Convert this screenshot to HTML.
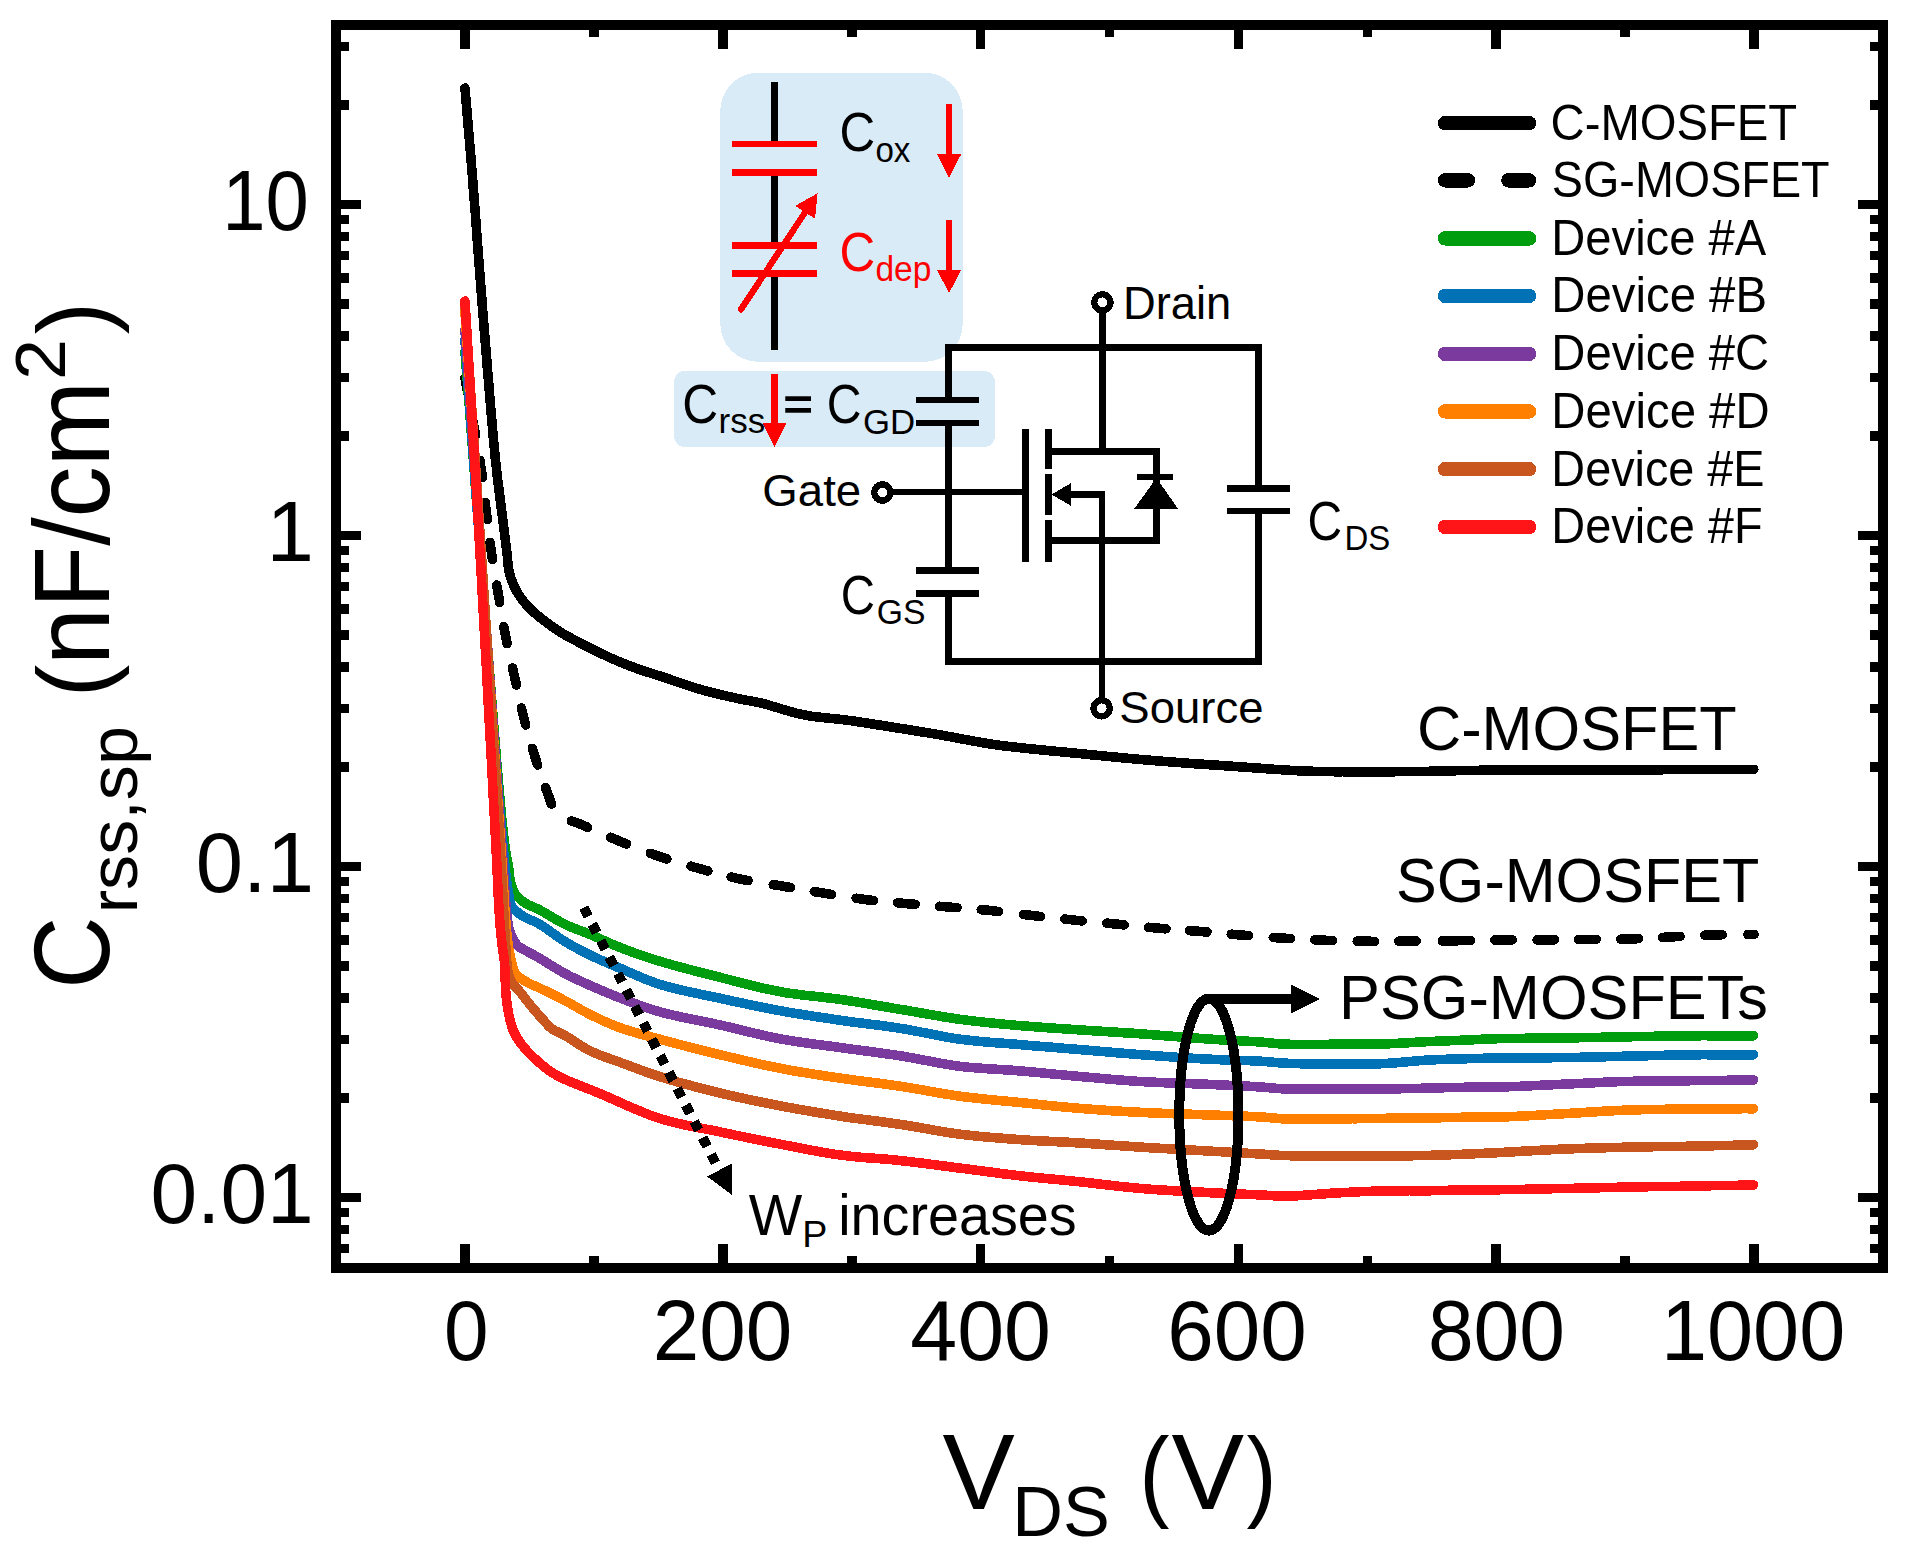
<!DOCTYPE html>
<html lang="en"><head><meta charset="utf-8"><title>Crss,sp vs VDS</title>
<style>html,body{margin:0;padding:0;background:#fff}svg{display:block}</style></head>
<body>
<svg shape-rendering="crispEdges" width="1908" height="1547" viewBox="0 0 1908 1547" font-family="'Liberation Sans', Arial, Helvetica, sans-serif">
<rect width="1908" height="1547" fill="#fff"/>
<path d="M465.0,88.0 L465.6,95.7 L466.3,103.3 L466.9,110.9 L467.6,118.5 L468.2,126.1 L468.9,133.8 L469.5,141.4 L470.2,149.0 L470.8,156.7 L471.4,164.4 L472.1,172.2 L472.7,180.0 L473.3,188.2 L474.0,196.5 L474.6,204.8 L475.3,213.1 L475.9,221.5 L476.5,229.9 L477.1,238.3 L477.8,246.7 L478.4,255.1 L479.0,263.4 L479.7,271.7 L480.3,280.0 L480.9,288.0 L481.6,296.0 L482.2,304.0 L482.8,312.0 L483.5,320.0 L484.1,328.0 L484.8,335.9 L485.4,343.8 L486.1,351.7 L486.7,359.5 L487.3,367.3 L488.0,375.0 L488.6,382.3 L489.2,389.6 L489.8,396.9 L490.4,404.2 L491.0,411.5 L491.7,418.7 L492.3,425.9 L492.9,432.9 L493.5,439.9 L494.2,446.7 L494.8,453.5 L495.5,460.0 L496.1,465.4 L496.7,470.8 L497.3,476.2 L497.9,481.5 L498.6,486.7 L499.2,491.9 L499.9,496.9 L500.5,501.8 L501.1,506.6 L501.7,511.3 L502.3,515.7 L502.8,520.0 L503.2,523.0 L503.5,525.8 L503.9,528.6 L504.2,531.2 L504.5,533.9 L504.8,536.4 L505.2,538.9 L505.5,541.4 L505.8,543.8 L506.1,546.2 L506.4,548.6 L506.7,551.0 L506.9,553.1 L507.2,555.1 L507.4,557.1 L507.5,559.1 L507.7,561.1 L507.9,563.1 L508.1,565.0 L508.4,566.9 L508.6,568.8 L509.0,570.7 L509.3,572.5 L509.8,574.3 L510.3,576.0 L510.8,577.6 L511.3,579.2 L511.9,580.8 L512.5,582.3 L513.1,583.9 L513.8,585.4 L514.5,586.9 L515.2,588.4 L516.0,589.9 L516.8,591.4 L517.6,592.8 L518.5,594.2 L519.4,595.7 L520.3,597.0 L521.3,598.4 L522.3,599.7 L523.3,601.1 L524.4,602.4 L525.5,603.7 L526.7,605.0 L527.9,606.3 L529.2,607.7 L530.5,609.0 L532.3,610.7 L534.2,612.5 L536.2,614.2 L538.2,616.0 L540.4,617.8 L542.6,619.5 L544.9,621.3 L547.2,623.0 L549.5,624.7 L551.8,626.3 L554.1,627.9 L556.4,629.5 L558.7,631.0 L561.0,632.4 L563.3,633.8 L565.6,635.2 L568.0,636.5 L570.4,637.8 L572.8,639.1 L575.2,640.4 L577.6,641.7 L580.0,642.9 L582.4,644.2 L584.8,645.4 L587.2,646.6 L589.6,647.8 L592.0,649.1 L594.4,650.3 L596.8,651.4 L599.2,652.6 L601.6,653.8 L604.0,654.9 L606.4,656.0 L608.8,657.1 L611.2,658.2 L613.5,659.2 L615.6,660.1 L617.8,661.0 L619.9,661.9 L622.1,662.8 L624.2,663.7 L626.3,664.5 L628.4,665.4 L630.5,666.2 L632.6,666.9 L634.6,667.7 L636.7,668.5 L638.7,669.2 L640.5,669.8 L642.3,670.4 L644.0,671.0 L645.7,671.5 L647.3,672.1 L649.0,672.6 L650.7,673.1 L652.5,673.6 L654.2,674.2 L656.1,674.8 L658.0,675.4 L660.0,676.0 L662.9,677.0 L665.9,678.0 L669.1,679.1 L672.4,680.2 L675.8,681.4 L679.2,682.6 L682.7,683.8 L686.2,685.0 L689.7,686.1 L693.2,687.2 L696.6,688.3 L700.0,689.3 L703.4,690.2 L706.8,691.2 L710.3,692.1 L713.8,693.0 L717.3,693.8 L720.8,694.7 L724.3,695.5 L727.7,696.3 L730.9,697.0 L734.1,697.7 L737.1,698.4 L740.0,699.0 L741.9,699.4 L743.6,699.7 L745.3,700.0 L746.9,700.3 L748.4,700.6 L749.9,700.8 L751.5,701.1 L753.0,701.4 L754.6,701.7 L756.3,702.0 L758.1,702.4 L760.0,702.8 L763.1,703.6 L766.4,704.4 L769.8,705.4 L773.4,706.5 L777.1,707.6 L780.9,708.8 L784.8,709.9 L788.7,711.1 L792.6,712.2 L796.4,713.2 L800.3,714.1 L804.0,714.9 L807.6,715.6 L811.3,716.2 L815.0,716.7 L818.6,717.1 L822.3,717.5 L826.0,717.9 L829.6,718.3 L833.3,718.6 L837.0,719.0 L840.7,719.4 L844.3,719.8 L848.0,720.3 L851.7,720.8 L855.4,721.3 L859.0,721.9 L862.7,722.5 L866.4,723.0 L870.1,723.6 L873.7,724.2 L877.4,724.8 L881.1,725.3 L884.8,725.9 L888.4,726.5 L892.1,727.1 L895.8,727.7 L899.4,728.3 L903.1,728.8 L906.8,729.4 L910.4,730.0 L914.1,730.6 L917.8,731.2 L921.4,731.8 L925.1,732.4 L928.8,733.0 L932.4,733.6 L936.1,734.2 L939.8,734.8 L943.6,735.5 L947.4,736.2 L951.3,736.9 L955.2,737.7 L959.0,738.4 L962.8,739.1 L966.5,739.8 L970.1,740.4 L973.6,741.1 L976.9,741.7 L980.1,742.2 L982.2,742.6 L984.1,742.9 L985.9,743.2 L987.6,743.5 L989.3,743.8 L990.9,744.0 L992.6,744.3 L994.3,744.6 L996.1,744.8 L998.1,745.1 L1000.2,745.4 L1002.5,745.7 L1007.3,746.3 L1012.5,746.9 L1018.3,747.5 L1024.5,748.2 L1030.9,748.9 L1037.6,749.5 L1044.5,750.2 L1051.5,750.9 L1058.4,751.5 L1065.3,752.2 L1072.1,752.9 L1078.6,753.5 L1085.1,754.1 L1091.6,754.8 L1098.2,755.4 L1104.7,756.1 L1111.3,756.7 L1117.8,757.3 L1124.4,758.0 L1130.9,758.6 L1137.5,759.2 L1144.1,759.8 L1150.6,760.3 L1157.2,760.9 L1163.8,761.4 L1170.4,761.9 L1177.0,762.4 L1183.7,762.9 L1190.3,763.4 L1197.0,763.9 L1203.6,764.3 L1210.2,764.8 L1216.7,765.2 L1223.2,765.6 L1229.5,766.1 L1235.8,766.5 L1241.4,766.9 L1247.0,767.3 L1252.5,767.7 L1257.9,768.1 L1263.4,768.5 L1268.8,768.9 L1274.1,769.3 L1279.4,769.6 L1284.6,770.0 L1289.8,770.3 L1294.9,770.6 L1300.0,770.8 L1304.5,771.0 L1308.8,771.1 L1313.1,771.3 L1317.3,771.4 L1321.4,771.5 L1325.6,771.5 L1329.7,771.6 L1333.9,771.7 L1338.1,771.7 L1342.4,771.7 L1346.8,771.8 L1351.3,771.8 L1356.6,771.8 L1362.0,771.9 L1367.4,771.9 L1373.0,771.9 L1378.6,771.8 L1384.3,771.8 L1390.0,771.8 L1395.7,771.7 L1401.4,771.7 L1407.1,771.6 L1412.8,771.6 L1418.4,771.5 L1423.9,771.4 L1429.3,771.3 L1434.6,771.2 L1439.9,771.1 L1445.2,771.0 L1450.5,770.9 L1455.9,770.7 L1461.4,770.6 L1467.1,770.5 L1473.0,770.4 L1479.1,770.3 L1485.5,770.2 L1495.1,770.1 L1505.2,770.0 L1515.8,770.0 L1526.8,770.0 L1538.1,770.0 L1549.7,770.0 L1561.4,770.0 L1573.2,770.0 L1585.0,770.0 L1596.7,769.9 L1608.3,769.9 L1619.6,769.9 L1630.8,769.9 L1642.0,769.8 L1653.1,769.8 L1664.3,769.7 L1675.5,769.7 L1686.7,769.6 L1697.9,769.6 L1709.1,769.5 L1720.2,769.5 L1731.4,769.4 L1742.6,769.4 L1753.8,769.3" fill="none" stroke="#000" stroke-width="9.6" stroke-linecap="round" stroke-linejoin="round"/>
<path d="M465.0,378.0 L465.7,381.8 L466.4,385.7 L467.1,389.6 L467.7,392.9 M472.4,418.1 L473.0,421.7 L473.8,425.7 L474.5,429.6 L475.2,433.5 L475.5,435.2 M479.9,460.4 L480.2,462.6 L480.7,465.9 L481.2,469.0 L481.5,471.1 L481.8,473.1 L482.1,475.0 L482.3,476.9 L482.4,477.6 M485.2,502.4 L485.2,502.6 L485.4,504.2 L485.6,505.9 L485.8,507.6 L486.0,509.3 L486.2,511.0 L486.4,512.7 L486.6,514.4 L486.8,516.0 L487.0,517.7 L487.2,519.4 L487.2,519.6 M490.0,542.4 L490.0,542.6 L490.3,544.3 L490.5,545.9 L490.7,547.6 L491.0,549.3 L491.2,551.0 L491.5,552.8 L491.7,554.5 L492.0,556.3 L492.3,558.1 L492.5,559.6 M496.7,585.1 L497.0,586.6 L497.3,588.4 L497.6,590.2 L497.9,591.9 L498.2,593.7 L498.5,595.4 L498.8,597.2 L499.1,598.9 L499.4,600.6 L499.6,602.3 M503.8,626.6 L504.1,628.2 L504.4,629.9 L504.7,631.7 L505.1,633.4 L505.4,635.1 L505.7,636.8 L506.1,638.6 L506.4,640.3 L506.8,642.0 L507.1,643.6 M512.6,668.0 L513.0,669.6 L513.3,671.4 L513.7,673.1 L514.1,674.8 L514.5,676.5 L514.9,678.2 L515.2,679.9 L515.6,681.5 L516.0,683.2 L516.3,684.9 L516.4,685.0 M521.4,708.0 L521.5,708.2 L521.9,709.9 L522.3,711.5 L522.7,713.2 L523.1,714.8 L523.5,716.5 L523.9,718.2 L524.4,719.9 L524.8,721.5 L525.2,723.2 L525.7,724.9 L525.7,724.9 M532.3,748.3 L532.3,748.3 L532.8,750.0 L533.3,751.6 L533.9,753.3 L534.4,754.9 L534.9,756.6 L535.4,758.3 L536.0,760.0 L536.5,761.7 L537.1,763.5 L537.6,764.9 M545.6,787.7 L546.1,789.2 L546.7,790.7 L547.2,792.1 L547.7,793.4 L548.1,794.7 L548.6,795.9 L548.8,796.5 L549.1,797.2 L549.3,797.8 L549.5,798.4 L549.7,798.9 L549.9,799.5 L550.0,800.0 L550.2,800.6 L550.4,801.1 L550.6,801.6 L550.7,802.1 L550.9,802.6 L551.1,803.0 L551.2,803.5 L551.4,804.0 L551.5,804.1 M571.4,821.1 L571.9,821.2 L572.6,821.5 L573.3,821.7 L574.1,821.9 L574.8,822.2 L575.6,822.4 L576.4,822.7 L577.2,823.0 L578.0,823.3 L578.8,823.6 L579.6,823.9 L580.9,824.4 L582.3,825.0 L583.7,825.6 L585.1,826.2 L586.6,826.9 L587.6,827.3 M610.4,837.3 L611.7,837.9 L613.4,838.6 L615.1,839.3 L616.8,840.0 L618.4,840.7 L620.1,841.4 L621.7,842.1 L623.4,842.7 L625.0,843.4 L626.5,844.0 M650.3,853.3 L651.8,853.8 L653.4,854.4 L655.1,855.0 L656.8,855.6 L658.5,856.2 L660.2,856.8 L661.9,857.3 L663.6,857.9 L665.3,858.5 L666.8,858.9 M691.0,866.2 L692.6,866.7 L694.3,867.2 L696.0,867.6 L697.7,868.1 L699.4,868.6 L701.1,869.1 L702.8,869.5 L704.4,870.0 L706.1,870.5 L707.8,870.9 L707.8,870.9 M731.2,877.0 L731.2,877.0 L732.9,877.4 L734.6,877.8 L736.3,878.2 L738.0,878.5 L739.7,878.9 L741.4,879.3 L743.2,879.6 L744.9,879.9 L746.6,880.3 L748.2,880.6 M773.2,884.6 L774.8,884.9 L776.6,885.1 L778.3,885.4 L780.1,885.7 L781.8,886.0 L783.5,886.3 L785.2,886.6 L787.0,886.9 L788.7,887.2 L790.4,887.5 M814.3,891.6 L816.0,891.9 L817.7,892.2 L819.5,892.4 L821.2,892.7 L822.9,893.0 L824.6,893.3 L826.4,893.6 L828.1,893.9 L829.9,894.1 L831.5,894.4 M856.2,898.3 L857.8,898.6 L859.6,898.8 L861.3,899.0 L863.1,899.3 L864.8,899.5 L866.5,899.7 L868.3,899.9 L870.0,900.1 L871.7,900.3 L873.4,900.5 M897.7,902.8 L899.5,903.0 L901.2,903.1 L902.9,903.3 L904.7,903.4 L906.4,903.6 L908.1,903.8 L909.9,903.9 L911.6,904.1 L913.4,904.2 L915.1,904.3 M939.6,906.3 L941.3,906.4 L943.1,906.6 L944.8,906.7 L946.6,906.9 L948.3,907.0 L950.0,907.1 L951.8,907.3 L953.5,907.4 L955.3,907.6 L957.0,907.7 M981.3,909.7 L983.0,909.8 L984.8,910.0 L986.5,910.2 L988.3,910.3 L990.0,910.5 L991.7,910.7 L993.5,910.9 L995.2,911.1 L997.0,911.3 L998.6,911.4 M1023.4,914.5 L1025.0,914.7 L1026.8,914.9 L1028.5,915.1 L1030.3,915.3 L1032.0,915.5 L1033.7,915.7 L1035.5,915.9 L1037.2,916.1 L1038.9,916.3 L1040.6,916.5 M1064.8,919.1 L1066.6,919.3 L1068.3,919.5 L1070.0,919.6 L1071.8,919.8 L1073.5,920.0 L1075.2,920.2 L1077.0,920.4 L1078.7,920.5 L1080.5,920.7 L1082.2,920.9 M1106.8,923.2 L1108.5,923.3 L1110.3,923.5 L1112.0,923.7 L1113.8,923.8 L1115.5,924.0 L1117.2,924.2 L1119.0,924.3 L1120.7,924.5 L1122.5,924.7 L1124.2,924.9 M1148.6,927.3 L1150.4,927.5 L1152.1,927.6 L1153.8,927.8 L1155.6,927.9 L1157.3,928.1 L1159.0,928.2 L1160.7,928.4 L1162.4,928.5 L1164.2,928.7 L1165.9,928.8 L1166.0,928.8 M1189.6,930.6 L1189.7,930.6 L1191.5,930.8 L1193.2,930.9 L1194.9,931.0 L1196.6,931.2 L1198.3,931.3 L1200.0,931.4 L1201.8,931.6 L1203.5,931.7 L1205.2,931.9 L1206.9,932.0 L1207.0,932.0 M1231.2,934.2 L1232.9,934.3 L1234.7,934.5 L1236.4,934.6 L1238.2,934.8 L1239.9,934.9 L1241.6,935.0 L1243.4,935.2 L1245.2,935.3 L1246.9,935.5 L1248.6,935.6 M1273.3,937.5 L1275.0,937.6 L1276.7,937.8 L1278.5,937.9 L1280.2,938.0 L1282.0,938.1 L1283.7,938.2 L1285.5,938.3 L1287.2,938.4 L1288.9,938.5 L1290.7,938.6 L1290.7,938.6 M1314.9,939.9 L1314.9,939.9 L1316.6,939.9 L1318.4,940.0 L1320.1,940.1 L1321.9,940.1 L1323.6,940.2 L1325.4,940.3 L1327.1,940.3 L1328.9,940.4 L1330.6,940.4 L1332.3,940.5 M1357.2,941.1 L1358.9,941.1 L1360.6,941.1 L1362.4,941.2 L1364.1,941.2 L1365.9,941.2 L1367.6,941.2 L1369.4,941.2 L1371.1,941.3 L1372.8,941.3 L1374.5,941.3 L1374.6,941.3 M1398.8,941.2 L1400.4,941.2 L1402.1,941.2 L1403.9,941.2 L1405.7,941.2 L1407.5,941.2 L1409.5,941.2 L1411.4,941.2 L1413.4,941.2 L1415.4,941.2 L1416.2,941.1 M1442.3,940.9 L1444.1,940.9 L1446.1,940.8 L1448.2,940.8 L1450.2,940.8 L1452.2,940.8 L1454.3,940.7 L1456.3,940.7 L1458.3,940.7 L1460.3,940.6 L1462.3,940.6 L1464.3,940.6 L1466.3,940.5 L1468.3,940.5 L1470.3,940.5 L1470.3,940.5 M1495.0,940.0 L1496.0,940.0 L1497.9,940.0 L1499.9,939.9 L1501.8,939.9 L1503.7,939.9 L1505.5,939.9 L1507.3,939.9 L1509.1,939.9 L1510.9,939.9 L1512.4,939.9 M1537.1,939.9 L1538.8,939.9 L1540.6,939.9 L1542.3,939.9 L1544.1,939.9 L1545.8,939.9 L1547.5,939.9 L1549.3,939.9 L1551.0,939.9 L1552.7,939.8 L1554.5,939.8 L1554.5,939.8 M1578.7,939.5 L1578.7,939.5 L1580.5,939.5 L1582.2,939.5 L1583.9,939.4 L1585.7,939.4 L1587.4,939.4 L1589.1,939.4 L1590.9,939.4 L1592.7,939.3 L1594.4,939.3 L1596.1,939.3 M1620.8,939.1 L1622.5,939.1 L1624.2,939.0 L1626.0,939.0 L1627.7,938.9 L1629.5,938.9 L1631.2,938.8 L1633.0,938.8 L1634.7,938.7 L1636.5,938.7 L1638.2,938.6 M1662.6,937.3 L1664.3,937.3 L1666.1,937.2 L1667.8,937.1 L1669.6,937.0 L1671.3,936.9 L1673.1,936.8 L1674.8,936.7 L1676.6,936.6 L1678.3,936.5 L1680.0,936.5 M1704.7,935.2 L1706.4,935.1 L1708.2,935.1 L1709.9,935.0 L1711.7,935.0 L1713.4,934.9 L1715.1,934.9 L1716.8,934.8 L1718.5,934.8 L1720.2,934.7 L1721.9,934.7 L1722.1,934.7 M1748.0,934.5 L1748.9,934.5 L1750.6,934.5 L1752.3,934.5 L1754.0,934.5" fill="none" stroke="#000" stroke-width="9.6" stroke-linecap="round" stroke-linejoin="round"/>
<path d="M465.0,352.0 L468.4,394.5 L471.9,440.1 L475.5,487.8 L479.2,536.5 L482.9,585.1 L486.5,632.8 L490.0,678.4 L493.4,720.9 L496.5,759.4 L499.4,792.7 L501.9,819.9 L504.1,840.0 L504.6,843.8 L505.1,847.3 L505.5,850.4 L506.0,853.2 L506.4,855.8 L506.9,858.1 L507.3,860.3 L507.7,862.4 L508.0,864.3 L508.4,866.2 L508.7,868.1 L509.0,870.0 L509.2,871.2 L509.3,872.3 L509.4,873.4 L509.5,874.4 L509.5,875.4 L509.6,876.3 L509.7,877.3 L509.8,878.2 L509.9,879.1 L510.1,880.1 L510.3,881.0 L510.5,882.0 L510.8,883.1 L511.1,884.2 L511.4,885.3 L511.8,886.4 L512.2,887.5 L512.6,888.6 L513.1,889.7 L513.5,890.8 L514.0,891.8 L514.6,892.8 L515.2,893.8 L515.8,894.7 L516.5,895.6 L517.2,896.4 L517.9,897.2 L518.7,897.9 L519.5,898.7 L520.3,899.4 L521.2,900.1 L522.0,900.8 L522.9,901.4 L523.9,902.1 L524.8,902.7 L525.7,903.3 L526.7,903.9 L527.7,904.5 L528.7,905.0 L529.7,905.5 L530.8,905.9 L531.8,906.4 L532.9,906.8 L534.0,907.3 L535.2,907.8 L536.3,908.3 L537.6,908.9 L538.8,909.5 L540.7,910.5 L542.6,911.6 L544.7,912.8 L546.8,914.0 L549.0,915.3 L551.2,916.7 L553.4,918.0 L555.7,919.3 L558.0,920.6 L560.2,921.9 L562.5,923.1 L564.7,924.2 L566.8,925.2 L568.9,926.1 L571.1,927.0 L573.2,927.9 L575.3,928.7 L577.5,929.5 L579.6,930.3 L581.8,931.2 L583.9,932.0 L586.1,932.8 L588.3,933.7 L590.5,934.6 L592.9,935.6 L595.3,936.7 L597.6,937.7 L600.0,938.8 L602.4,939.9 L604.8,941.0 L607.3,942.1 L609.7,943.2 L612.2,944.3 L614.8,945.4 L617.4,946.4 L620.0,947.5 L623.1,948.7 L626.2,949.9 L629.3,951.0 L632.5,952.2 L635.8,953.4 L639.0,954.5 L642.4,955.6 L645.8,956.8 L649.2,957.9 L652.8,959.0 L656.3,960.2 L660.0,961.3 L664.6,962.7 L669.3,964.0 L674.1,965.4 L679.1,966.7 L684.1,968.1 L689.2,969.4 L694.3,970.8 L699.5,972.1 L704.7,973.4 L709.8,974.7 L715.0,976.0 L720.0,977.3 L725.0,978.6 L730.0,979.9 L735.0,981.2 L740.0,982.5 L745.0,983.7 L750.0,985.0 L754.9,986.3 L759.9,987.5 L765.0,988.6 L770.0,989.7 L775.0,990.7 L780.0,991.7 L785.0,992.6 L790.0,993.3 L795.0,994.0 L800.0,994.7 L805.0,995.3 L810.0,995.8 L815.0,996.4 L820.0,996.9 L825.0,997.5 L830.0,998.1 L835.0,998.7 L840.0,999.4 L845.0,1000.1 L850.0,1000.9 L855.0,1001.7 L860.0,1002.5 L865.0,1003.4 L870.0,1004.2 L875.0,1005.1 L880.0,1005.9 L885.0,1006.8 L890.0,1007.6 L895.0,1008.5 L900.0,1009.3 L905.0,1010.1 L910.0,1011.0 L915.0,1011.9 L920.0,1012.8 L925.0,1013.6 L930.0,1014.5 L935.0,1015.4 L940.0,1016.2 L945.0,1017.1 L950.0,1017.8 L955.0,1018.6 L960.0,1019.3 L965.0,1020.0 L970.0,1020.6 L975.0,1021.2 L980.0,1021.7 L985.0,1022.3 L990.0,1022.8 L995.0,1023.3 L1000.0,1023.8 L1005.0,1024.3 L1010.0,1024.7 L1015.0,1025.2 L1020.0,1025.6 L1025.0,1026.0 L1030.0,1026.4 L1035.0,1026.8 L1040.0,1027.2 L1045.0,1027.6 L1050.0,1027.9 L1055.0,1028.2 L1060.0,1028.6 L1065.0,1028.9 L1070.0,1029.2 L1075.0,1029.6 L1080.0,1029.9 L1085.0,1030.2 L1090.0,1030.6 L1094.9,1030.9 L1099.9,1031.2 L1104.9,1031.5 L1109.9,1031.8 L1114.8,1032.1 L1119.8,1032.4 L1124.8,1032.8 L1129.9,1033.1 L1134.9,1033.4 L1140.0,1033.8 L1145.3,1034.2 L1150.7,1034.6 L1156.2,1035.0 L1161.7,1035.5 L1167.2,1035.9 L1172.7,1036.3 L1178.2,1036.8 L1183.6,1037.2 L1189.1,1037.6 L1194.4,1038.0 L1199.8,1038.4 L1205.0,1038.8 L1209.8,1039.1 L1214.7,1039.4 L1219.5,1039.7 L1224.4,1040.0 L1229.3,1040.2 L1234.1,1040.5 L1238.8,1040.7 L1243.3,1041.0 L1247.8,1041.2 L1252.1,1041.5 L1256.1,1041.7 L1260.0,1042.0 L1262.5,1042.2 L1264.8,1042.4 L1267.0,1042.6 L1269.1,1042.8 L1271.1,1043.0 L1273.0,1043.2 L1275.0,1043.4 L1277.0,1043.6 L1279.1,1043.8 L1281.3,1043.9 L1283.6,1044.1 L1286.0,1044.2 L1289.7,1044.3 L1293.6,1044.4 L1297.7,1044.5 L1302.0,1044.5 L1306.4,1044.5 L1310.9,1044.4 L1315.5,1044.4 L1320.0,1044.4 L1324.5,1044.3 L1329.0,1044.3 L1333.4,1044.2 L1337.6,1044.2 L1341.5,1044.2 L1345.3,1044.2 L1349.1,1044.2 L1352.9,1044.2 L1356.6,1044.2 L1360.4,1044.2 L1364.1,1044.2 L1367.8,1044.2 L1371.6,1044.2 L1375.3,1044.2 L1379.0,1044.1 L1382.8,1044.0 L1386.6,1043.9 L1390.4,1043.7 L1394.2,1043.5 L1398.0,1043.3 L1401.8,1043.1 L1405.6,1042.9 L1409.4,1042.7 L1413.2,1042.4 L1416.9,1042.2 L1420.7,1042.0 L1424.3,1041.8 L1428.0,1041.6 L1431.4,1041.4 L1434.7,1041.3 L1438.0,1041.2 L1441.3,1041.0 L1444.6,1040.9 L1447.9,1040.8 L1451.1,1040.6 L1454.3,1040.5 L1457.5,1040.4 L1460.7,1040.3 L1463.9,1040.1 L1467.0,1040.0 L1469.8,1039.9 L1472.5,1039.8 L1475.2,1039.6 L1477.8,1039.5 L1480.4,1039.4 L1483.0,1039.2 L1485.6,1039.1 L1488.3,1039.0 L1491.1,1038.9 L1493.9,1038.8 L1496.9,1038.7 L1500.0,1038.6 L1504.6,1038.5 L1509.4,1038.4 L1514.5,1038.4 L1519.7,1038.3 L1525.1,1038.3 L1530.6,1038.2 L1536.1,1038.2 L1541.7,1038.2 L1547.3,1038.2 L1552.8,1038.1 L1558.3,1038.1 L1563.7,1038.0 L1569.0,1037.9 L1574.3,1037.8 L1579.6,1037.7 L1584.9,1037.6 L1590.2,1037.5 L1595.6,1037.4 L1600.9,1037.3 L1606.2,1037.2 L1611.5,1037.1 L1616.8,1037.0 L1622.1,1036.9 L1627.4,1036.8 L1632.7,1036.7 L1638.0,1036.6 L1643.3,1036.5 L1648.6,1036.4 L1653.9,1036.3 L1659.2,1036.2 L1664.5,1036.1 L1669.8,1036.1 L1675.1,1036.0 L1680.4,1035.9 L1685.7,1035.8 L1691.0,1035.8 L1696.2,1035.8 L1701.4,1035.7 L1706.7,1035.7 L1711.9,1035.7 L1717.1,1035.7 L1722.3,1035.7 L1727.5,1035.8 L1732.7,1035.8 L1737.9,1035.8 L1743.1,1035.8 L1748.3,1035.8 L1753.5,1035.8" fill="none" stroke="#009E0F" stroke-width="9.6" stroke-linecap="round" stroke-linejoin="round"/>
<path d="M465.0,340.0 L466.9,367.0 L468.9,394.4 L470.9,422.1 L472.9,450.1 L474.9,478.0 L476.9,505.7 L478.9,533.2 L480.8,560.1 L482.7,586.4 L484.6,612.0 L486.4,636.5 L488.2,660.0 L489.5,677.2 L490.8,694.3 L492.1,711.2 L493.4,727.9 L494.6,744.3 L495.8,760.2 L497.0,775.5 L498.2,790.2 L499.3,804.1 L500.4,817.1 L501.5,829.1 L502.5,840.0 L503.0,845.3 L503.5,850.5 L504.0,855.3 L504.4,860.0 L504.8,864.5 L505.3,868.7 L505.7,872.7 L506.1,876.6 L506.6,880.2 L507.0,883.6 L507.5,886.9 L508.0,890.0 L508.3,891.7 L508.5,893.3 L508.7,894.8 L508.9,896.2 L509.1,897.6 L509.3,898.9 L509.5,900.2 L509.8,901.4 L510.1,902.6 L510.5,903.8 L511.0,904.9 L511.6,906.0 L512.3,907.0 L513.0,908.0 L513.8,909.0 L514.7,909.9 L515.7,910.8 L516.7,911.6 L517.7,912.4 L518.7,913.2 L519.8,914.0 L520.9,914.7 L522.0,915.5 L523.1,916.2 L524.3,916.9 L525.5,917.6 L526.7,918.2 L528.0,918.8 L529.2,919.3 L530.5,919.9 L531.9,920.4 L533.2,921.0 L534.6,921.6 L536.0,922.2 L537.4,922.9 L538.8,923.7 L540.8,924.9 L542.8,926.2 L544.9,927.6 L547.0,929.1 L549.2,930.6 L551.4,932.2 L553.6,933.8 L555.8,935.4 L558.0,937.0 L560.3,938.5 L562.5,940.0 L564.7,941.4 L566.8,942.7 L568.9,943.9 L571.0,945.1 L573.2,946.3 L575.3,947.5 L577.4,948.6 L579.5,949.8 L581.7,950.9 L583.9,952.0 L586.1,953.1 L588.3,954.2 L590.5,955.3 L592.9,956.4 L595.2,957.5 L597.6,958.6 L600.0,959.7 L602.4,960.7 L604.8,961.8 L607.2,962.8 L609.7,963.9 L612.2,964.9 L614.8,966.0 L617.4,967.1 L620.0,968.2 L623.1,969.5 L626.2,970.9 L629.3,972.3 L632.5,973.7 L635.8,975.1 L639.0,976.5 L642.4,977.9 L645.7,979.3 L649.2,980.6 L652.7,981.9 L656.3,983.2 L660.0,984.4 L664.5,985.8 L669.2,987.1 L674.1,988.3 L679.0,989.5 L684.0,990.7 L689.2,991.8 L694.3,992.9 L699.5,994.0 L704.7,995.1 L709.8,996.1 L715.0,997.2 L720.0,998.3 L725.0,999.4 L730.0,1000.5 L735.0,1001.6 L740.0,1002.6 L745.0,1003.7 L750.0,1004.8 L755.0,1005.8 L760.0,1006.8 L765.0,1007.8 L770.0,1008.8 L775.0,1009.8 L780.0,1010.7 L785.0,1011.6 L790.0,1012.5 L795.0,1013.3 L800.0,1014.1 L805.0,1014.9 L810.0,1015.7 L815.0,1016.5 L820.0,1017.2 L825.0,1018.0 L830.0,1018.7 L835.0,1019.5 L840.0,1020.2 L845.0,1020.9 L850.0,1021.6 L855.0,1022.3 L860.0,1022.9 L865.0,1023.5 L870.0,1024.2 L875.0,1024.8 L880.0,1025.4 L885.0,1026.1 L890.0,1026.8 L895.0,1027.5 L900.0,1028.3 L905.0,1029.1 L910.0,1030.0 L915.0,1031.0 L920.0,1031.9 L925.0,1032.9 L930.0,1033.9 L935.0,1034.9 L940.0,1035.9 L945.0,1036.8 L950.0,1037.7 L955.0,1038.5 L960.0,1039.2 L965.0,1039.8 L970.0,1040.4 L975.0,1040.9 L980.0,1041.4 L985.0,1041.9 L990.0,1042.3 L995.0,1042.7 L1000.0,1043.0 L1005.0,1043.4 L1010.0,1043.8 L1015.0,1044.2 L1020.0,1044.6 L1025.0,1045.0 L1030.0,1045.5 L1035.0,1045.9 L1040.0,1046.3 L1045.0,1046.7 L1050.0,1047.1 L1055.0,1047.5 L1060.0,1047.9 L1065.0,1048.4 L1070.0,1048.8 L1075.0,1049.2 L1080.0,1049.6 L1085.0,1050.0 L1090.0,1050.4 L1094.9,1050.9 L1099.9,1051.3 L1104.9,1051.7 L1109.8,1052.1 L1114.8,1052.6 L1119.8,1053.0 L1124.8,1053.4 L1129.9,1053.8 L1134.9,1054.2 L1140.0,1054.6 L1145.3,1055.0 L1150.7,1055.4 L1156.2,1055.8 L1161.7,1056.2 L1167.2,1056.6 L1172.7,1057.0 L1178.2,1057.4 L1183.6,1057.7 L1189.1,1058.1 L1194.4,1058.4 L1199.8,1058.7 L1205.0,1059.0 L1209.8,1059.2 L1214.7,1059.5 L1219.5,1059.7 L1224.4,1059.8 L1229.3,1060.0 L1234.1,1060.2 L1238.8,1060.3 L1243.3,1060.5 L1247.8,1060.6 L1252.1,1060.8 L1256.1,1061.0 L1260.0,1061.2 L1262.5,1061.4 L1264.8,1061.5 L1267.0,1061.7 L1269.1,1061.9 L1271.1,1062.1 L1273.0,1062.2 L1275.0,1062.4 L1277.0,1062.6 L1279.1,1062.8 L1281.3,1062.9 L1283.6,1063.1 L1286.0,1063.2 L1289.7,1063.4 L1293.6,1063.5 L1297.7,1063.6 L1302.0,1063.8 L1306.4,1063.9 L1310.9,1063.9 L1315.5,1064.0 L1320.0,1064.1 L1324.5,1064.1 L1329.0,1064.2 L1333.4,1064.2 L1337.6,1064.2 L1341.5,1064.2 L1345.3,1064.2 L1349.1,1064.2 L1352.9,1064.2 L1356.6,1064.2 L1360.4,1064.2 L1364.1,1064.1 L1367.8,1064.1 L1371.6,1064.0 L1375.3,1063.9 L1379.0,1063.8 L1382.8,1063.6 L1386.6,1063.4 L1390.4,1063.2 L1394.2,1062.9 L1398.0,1062.6 L1401.8,1062.2 L1405.6,1061.9 L1409.4,1061.6 L1413.2,1061.2 L1416.9,1060.9 L1420.7,1060.6 L1424.3,1060.3 L1428.0,1060.1 L1431.4,1059.9 L1434.7,1059.8 L1438.0,1059.6 L1441.3,1059.5 L1444.6,1059.4 L1447.9,1059.2 L1451.1,1059.1 L1454.3,1059.1 L1457.5,1059.0 L1460.7,1058.9 L1463.9,1058.8 L1467.0,1058.7 L1469.8,1058.6 L1472.5,1058.5 L1475.2,1058.5 L1477.8,1058.4 L1480.4,1058.4 L1483.0,1058.3 L1485.6,1058.2 L1488.3,1058.2 L1491.1,1058.1 L1493.9,1058.1 L1496.9,1058.0 L1500.0,1058.0 L1504.6,1057.9 L1509.4,1057.9 L1514.5,1057.9 L1519.7,1057.9 L1525.1,1057.8 L1530.6,1057.8 L1536.1,1057.8 L1541.7,1057.8 L1547.3,1057.8 L1552.8,1057.7 L1558.3,1057.7 L1563.7,1057.6 L1569.0,1057.5 L1574.3,1057.4 L1579.6,1057.3 L1584.9,1057.2 L1590.2,1057.1 L1595.6,1057.0 L1600.9,1056.8 L1606.2,1056.7 L1611.5,1056.6 L1616.8,1056.4 L1622.1,1056.3 L1627.4,1056.2 L1632.7,1056.1 L1638.0,1056.0 L1643.3,1055.8 L1648.6,1055.7 L1653.9,1055.5 L1659.2,1055.4 L1664.5,1055.3 L1669.8,1055.2 L1675.1,1055.1 L1680.4,1055.0 L1685.7,1054.9 L1691.0,1054.8 L1696.2,1054.8 L1701.4,1054.7 L1706.7,1054.7 L1711.9,1054.7 L1717.1,1054.7 L1722.3,1054.7 L1727.5,1054.7 L1732.7,1054.7 L1737.9,1054.8 L1743.1,1054.8 L1748.3,1054.8 L1753.5,1054.8" fill="none" stroke="#0072B5" stroke-width="9.6" stroke-linecap="round" stroke-linejoin="round"/>
<path d="M465.0,330.0 L468.1,373.9 L471.4,420.1 L474.8,467.8 L478.3,516.3 L481.8,564.8 L485.2,612.6 L488.5,658.8 L491.6,702.7 L494.5,743.5 L497.2,780.5 L499.5,812.9 L501.5,840.0 L502.2,849.3 L502.8,858.2 L503.3,866.5 L503.8,874.4 L504.3,881.8 L504.8,888.8 L505.2,895.2 L505.6,901.1 L506.1,906.6 L506.5,911.6 L507.0,916.0 L507.5,920.0 L507.7,921.4 L507.9,922.7 L508.1,923.8 L508.3,924.9 L508.4,925.9 L508.6,926.8 L508.8,927.7 L509.0,928.6 L509.2,929.4 L509.5,930.3 L509.7,931.1 L510.0,932.0 L510.2,932.7 L510.5,933.5 L510.8,934.2 L511.0,934.9 L511.3,935.6 L511.6,936.3 L511.9,936.9 L512.2,937.6 L512.6,938.2 L512.9,938.9 L513.2,939.5 L513.6,940.1 L513.9,940.6 L514.3,941.2 L514.6,941.7 L514.9,942.2 L515.3,942.7 L515.6,943.2 L516.0,943.7 L516.4,944.2 L516.8,944.7 L517.2,945.1 L517.6,945.6 L518.1,946.0 L518.6,946.5 L519.2,946.9 L519.8,947.3 L520.4,947.7 L521.0,948.1 L521.7,948.4 L522.4,948.8 L523.0,949.1 L523.7,949.5 L524.4,949.9 L525.2,950.3 L525.9,950.7 L526.8,951.2 L527.8,951.8 L528.8,952.3 L529.8,952.9 L530.8,953.4 L531.9,954.0 L533.0,954.6 L534.1,955.2 L535.2,955.8 L536.4,956.4 L537.6,957.1 L538.8,957.8 L540.7,958.9 L542.6,960.1 L544.6,961.3 L546.8,962.6 L548.9,964.0 L551.2,965.4 L553.4,966.8 L555.7,968.2 L558.0,969.6 L560.2,970.9 L562.5,972.2 L564.7,973.4 L566.8,974.5 L568.9,975.6 L571.1,976.7 L573.2,977.7 L575.3,978.7 L577.4,979.7 L579.6,980.7 L581.7,981.7 L583.9,982.7 L586.1,983.6 L588.3,984.6 L590.5,985.6 L592.9,986.6 L595.2,987.7 L597.6,988.7 L600.0,989.8 L602.4,990.8 L604.8,991.8 L607.2,992.8 L609.7,993.8 L612.2,994.8 L614.8,995.9 L617.4,996.9 L620.0,997.9 L623.1,999.1 L626.2,1000.3 L629.3,1001.5 L632.5,1002.7 L635.8,1003.9 L639.0,1005.1 L642.4,1006.3 L645.8,1007.4 L649.2,1008.6 L652.7,1009.7 L656.3,1010.8 L660.0,1011.9 L664.5,1013.1 L669.3,1014.3 L674.1,1015.4 L679.0,1016.5 L684.1,1017.6 L689.2,1018.7 L694.3,1019.7 L699.5,1020.7 L704.7,1021.8 L709.9,1022.8 L715.0,1023.9 L720.0,1025.0 L725.0,1026.1 L730.0,1027.3 L735.0,1028.5 L740.0,1029.7 L745.0,1031.0 L750.0,1032.2 L755.0,1033.4 L760.0,1034.5 L765.0,1035.7 L770.0,1036.8 L775.0,1037.8 L780.0,1038.8 L785.0,1039.7 L790.0,1040.5 L795.0,1041.3 L800.0,1042.1 L805.0,1042.8 L810.0,1043.5 L815.0,1044.2 L820.0,1044.8 L825.0,1045.5 L830.0,1046.1 L835.0,1046.8 L840.0,1047.5 L845.0,1048.2 L850.0,1048.9 L855.0,1049.6 L860.0,1050.2 L865.0,1050.9 L870.0,1051.5 L875.0,1052.2 L880.0,1052.9 L885.0,1053.6 L890.0,1054.3 L895.0,1055.0 L900.0,1055.8 L905.0,1056.6 L910.0,1057.5 L915.0,1058.4 L920.0,1059.4 L925.0,1060.3 L930.0,1061.3 L935.0,1062.2 L940.0,1063.2 L945.0,1064.0 L950.0,1064.9 L955.0,1065.6 L960.0,1066.3 L965.0,1066.9 L970.0,1067.4 L975.0,1067.8 L980.0,1068.2 L985.0,1068.6 L990.0,1068.9 L995.0,1069.2 L1000.0,1069.5 L1005.0,1069.8 L1010.0,1070.1 L1015.0,1070.5 L1020.0,1070.9 L1025.0,1071.3 L1030.0,1071.8 L1035.0,1072.2 L1040.0,1072.7 L1045.0,1073.2 L1050.0,1073.7 L1055.0,1074.2 L1060.0,1074.6 L1065.0,1075.1 L1070.0,1075.6 L1075.0,1076.1 L1080.0,1076.5 L1085.0,1076.9 L1090.0,1077.4 L1094.9,1077.8 L1099.9,1078.3 L1104.9,1078.7 L1109.8,1079.2 L1114.8,1079.6 L1119.8,1080.0 L1124.8,1080.4 L1129.9,1080.8 L1134.9,1081.2 L1140.0,1081.5 L1145.3,1081.8 L1150.7,1082.1 L1156.2,1082.3 L1161.7,1082.6 L1167.2,1082.8 L1172.7,1083.0 L1178.2,1083.2 L1183.6,1083.4 L1189.1,1083.6 L1194.5,1083.8 L1199.8,1084.0 L1205.0,1084.2 L1209.8,1084.4 L1214.7,1084.6 L1219.6,1084.9 L1224.4,1085.1 L1229.3,1085.3 L1234.1,1085.5 L1238.8,1085.7 L1243.3,1086.0 L1247.8,1086.2 L1252.1,1086.4 L1256.1,1086.7 L1260.0,1086.9 L1262.5,1087.1 L1264.8,1087.3 L1267.0,1087.5 L1269.1,1087.7 L1271.1,1087.8 L1273.0,1088.0 L1275.0,1088.2 L1277.0,1088.4 L1279.1,1088.6 L1281.3,1088.7 L1283.6,1088.9 L1286.0,1089.0 L1289.7,1089.1 L1293.6,1089.2 L1297.7,1089.2 L1302.0,1089.3 L1306.4,1089.2 L1310.9,1089.2 L1315.5,1089.2 L1320.0,1089.1 L1324.5,1089.1 L1329.0,1089.0 L1333.4,1089.0 L1337.6,1089.0 L1341.5,1089.0 L1345.3,1089.0 L1349.1,1089.0 L1352.9,1089.0 L1356.6,1089.0 L1360.4,1089.1 L1364.1,1089.1 L1367.8,1089.1 L1371.6,1089.1 L1375.3,1089.1 L1379.0,1089.0 L1382.8,1089.0 L1386.6,1089.0 L1390.4,1088.9 L1394.2,1088.8 L1398.0,1088.8 L1401.8,1088.7 L1405.6,1088.6 L1409.4,1088.5 L1413.2,1088.4 L1416.9,1088.4 L1420.7,1088.3 L1424.4,1088.2 L1428.0,1088.1 L1431.4,1088.0 L1434.7,1087.9 L1438.0,1087.9 L1441.3,1087.8 L1444.6,1087.7 L1447.9,1087.6 L1451.1,1087.5 L1454.3,1087.4 L1457.5,1087.4 L1460.7,1087.3 L1463.9,1087.3 L1467.0,1087.2 L1469.8,1087.2 L1472.5,1087.1 L1475.2,1087.1 L1477.8,1087.1 L1480.4,1087.2 L1483.0,1087.2 L1485.6,1087.2 L1488.3,1087.2 L1491.1,1087.1 L1493.9,1087.1 L1496.9,1087.1 L1500.0,1087.0 L1504.6,1086.9 L1509.4,1086.7 L1514.5,1086.5 L1519.7,1086.3 L1525.1,1086.0 L1530.6,1085.8 L1536.1,1085.5 L1541.7,1085.2 L1547.3,1085.0 L1552.8,1084.7 L1558.3,1084.4 L1563.7,1084.2 L1569.0,1084.0 L1574.3,1083.7 L1579.6,1083.5 L1584.9,1083.2 L1590.2,1082.9 L1595.6,1082.7 L1600.9,1082.4 L1606.2,1082.2 L1611.5,1082.0 L1616.8,1081.7 L1622.1,1081.6 L1627.4,1081.4 L1632.7,1081.3 L1638.0,1081.2 L1643.3,1081.1 L1648.6,1081.0 L1653.9,1081.0 L1659.2,1080.9 L1664.5,1080.9 L1669.8,1080.9 L1675.1,1080.8 L1680.4,1080.8 L1685.7,1080.8 L1691.0,1080.7 L1696.2,1080.6 L1701.4,1080.6 L1706.7,1080.5 L1711.9,1080.5 L1717.1,1080.4 L1722.3,1080.4 L1727.5,1080.3 L1732.7,1080.2 L1737.9,1080.2 L1743.1,1080.1 L1748.3,1080.1 L1753.5,1080.0" fill="none" stroke="#7B3A9E" stroke-width="9.6" stroke-linecap="round" stroke-linejoin="round"/>
<path d="M465.0,312.0 L468.0,357.4 L471.2,404.9 L474.5,454.0 L477.9,503.8 L481.2,553.6 L484.5,602.7 L487.7,650.3 L490.8,695.6 L493.6,738.0 L496.2,776.7 L498.5,810.9 L500.5,840.0 L501.2,850.8 L501.9,861.1 L502.5,870.8 L503.0,880.0 L503.6,888.6 L504.1,896.7 L504.5,904.3 L505.0,911.4 L505.5,918.0 L506.0,924.1 L506.5,929.8 L507.0,935.0 L507.2,937.2 L507.5,939.2 L507.7,941.1 L507.9,942.8 L508.1,944.5 L508.3,946.0 L508.5,947.5 L508.8,949.0 L509.0,950.4 L509.3,951.9 L509.6,953.4 L510.0,955.0 L510.4,956.6 L510.7,958.3 L511.1,959.9 L511.4,961.6 L511.8,963.3 L512.2,964.9 L512.7,966.5 L513.2,968.1 L513.7,969.6 L514.3,971.0 L515.0,972.4 L515.8,973.6 L516.6,974.6 L517.4,975.5 L518.3,976.4 L519.2,977.2 L520.2,977.9 L521.2,978.6 L522.2,979.3 L523.3,980.0 L524.3,980.6 L525.4,981.2 L526.4,981.8 L527.4,982.4 L528.3,982.9 L529.2,983.4 L530.1,983.8 L531.0,984.2 L531.9,984.6 L532.8,985.0 L533.7,985.4 L534.6,985.8 L535.6,986.2 L536.6,986.6 L537.7,987.1 L538.8,987.6 L540.6,988.5 L542.5,989.4 L544.6,990.4 L546.7,991.4 L548.9,992.5 L551.1,993.6 L553.4,994.7 L555.7,995.9 L558.0,997.1 L560.3,998.2 L562.5,999.4 L564.7,1000.5 L566.9,1001.6 L569.0,1002.8 L571.1,1004.0 L573.2,1005.2 L575.4,1006.4 L577.5,1007.6 L579.6,1008.8 L581.7,1010.1 L583.9,1011.2 L586.1,1012.4 L588.3,1013.6 L590.5,1014.7 L592.9,1015.9 L595.2,1017.0 L597.6,1018.1 L599.9,1019.3 L602.3,1020.4 L604.8,1021.5 L607.2,1022.6 L609.7,1023.6 L612.2,1024.7 L614.7,1025.7 L617.3,1026.7 L620.0,1027.7 L623.1,1028.8 L626.2,1029.8 L629.3,1030.8 L632.5,1031.8 L635.8,1032.7 L639.1,1033.7 L642.4,1034.6 L645.8,1035.5 L649.3,1036.4 L652.8,1037.4 L656.4,1038.3 L660.0,1039.3 L664.6,1040.5 L669.3,1041.8 L674.1,1043.1 L679.1,1044.4 L684.1,1045.7 L689.2,1047.0 L694.4,1048.3 L699.5,1049.6 L704.7,1050.9 L709.8,1052.2 L715.0,1053.5 L720.0,1054.7 L725.0,1055.9 L730.0,1057.1 L735.0,1058.3 L740.0,1059.5 L745.0,1060.7 L750.0,1061.8 L755.0,1063.0 L760.0,1064.1 L765.0,1065.2 L770.0,1066.3 L775.0,1067.3 L780.0,1068.3 L785.0,1069.3 L790.0,1070.2 L795.0,1071.1 L800.0,1071.9 L805.0,1072.7 L810.0,1073.5 L815.0,1074.3 L820.0,1075.1 L825.0,1075.9 L830.0,1076.6 L835.0,1077.4 L840.0,1078.1 L845.0,1078.8 L850.0,1079.5 L855.0,1080.2 L860.0,1080.9 L865.0,1081.5 L870.0,1082.1 L875.0,1082.8 L880.0,1083.4 L885.0,1084.1 L890.0,1084.8 L895.0,1085.5 L900.0,1086.2 L905.0,1087.0 L910.0,1087.8 L915.0,1088.7 L920.0,1089.5 L925.0,1090.4 L930.0,1091.3 L935.0,1092.2 L940.0,1093.1 L945.0,1093.9 L950.0,1094.7 L955.0,1095.5 L960.0,1096.2 L965.0,1096.9 L970.0,1097.5 L975.0,1098.0 L980.0,1098.6 L985.0,1099.1 L990.0,1099.6 L995.0,1100.1 L1000.0,1100.6 L1005.0,1101.0 L1010.0,1101.5 L1015.0,1102.0 L1020.0,1102.5 L1025.0,1103.0 L1030.0,1103.5 L1035.0,1104.0 L1040.0,1104.6 L1045.0,1105.1 L1050.0,1105.6 L1055.0,1106.1 L1060.0,1106.6 L1065.0,1107.1 L1070.0,1107.5 L1075.0,1108.0 L1080.0,1108.4 L1085.0,1108.8 L1090.0,1109.2 L1094.9,1109.5 L1099.9,1109.9 L1104.9,1110.2 L1109.8,1110.6 L1114.8,1110.9 L1119.8,1111.2 L1124.8,1111.5 L1129.9,1111.8 L1134.9,1112.0 L1140.0,1112.3 L1145.3,1112.6 L1150.7,1112.8 L1156.2,1113.0 L1161.7,1113.3 L1167.2,1113.5 L1172.7,1113.7 L1178.2,1113.9 L1183.6,1114.0 L1189.1,1114.2 L1194.5,1114.4 L1199.8,1114.6 L1205.0,1114.8 L1209.8,1115.0 L1214.7,1115.2 L1219.6,1115.3 L1224.4,1115.5 L1229.3,1115.6 L1234.1,1115.8 L1238.8,1116.0 L1243.3,1116.1 L1247.8,1116.3 L1252.1,1116.5 L1256.1,1116.7 L1260.0,1116.9 L1262.5,1117.1 L1264.8,1117.2 L1267.0,1117.4 L1269.1,1117.6 L1271.1,1117.8 L1273.0,1118.0 L1275.0,1118.2 L1277.0,1118.3 L1279.1,1118.5 L1281.3,1118.7 L1283.6,1118.8 L1286.0,1118.9 L1289.7,1119.0 L1293.6,1119.1 L1297.7,1119.1 L1302.0,1119.2 L1306.4,1119.2 L1310.9,1119.1 L1315.5,1119.1 L1320.0,1119.1 L1324.5,1119.0 L1329.0,1119.0 L1333.4,1118.9 L1337.6,1118.9 L1341.5,1118.9 L1345.3,1118.8 L1349.1,1118.8 L1352.9,1118.7 L1356.6,1118.7 L1360.4,1118.6 L1364.1,1118.6 L1367.8,1118.5 L1371.6,1118.4 L1375.3,1118.4 L1379.0,1118.3 L1382.8,1118.3 L1386.6,1118.3 L1390.4,1118.2 L1394.2,1118.2 L1398.0,1118.2 L1401.8,1118.1 L1405.6,1118.1 L1409.4,1118.1 L1413.2,1118.1 L1416.9,1118.0 L1420.7,1118.0 L1424.4,1117.9 L1428.0,1117.9 L1431.4,1117.9 L1434.7,1117.8 L1438.0,1117.7 L1441.3,1117.7 L1444.6,1117.6 L1447.9,1117.5 L1451.1,1117.5 L1454.3,1117.4 L1457.5,1117.3 L1460.7,1117.3 L1463.9,1117.2 L1467.0,1117.2 L1469.8,1117.2 L1472.5,1117.2 L1475.2,1117.2 L1477.8,1117.2 L1480.4,1117.2 L1483.0,1117.2 L1485.6,1117.2 L1488.3,1117.2 L1491.1,1117.2 L1493.9,1117.1 L1496.9,1117.1 L1500.0,1117.0 L1504.6,1116.8 L1509.4,1116.7 L1514.5,1116.4 L1519.7,1116.2 L1525.1,1115.9 L1530.6,1115.6 L1536.1,1115.3 L1541.7,1115.0 L1547.3,1114.6 L1552.8,1114.3 L1558.3,1114.0 L1563.7,1113.7 L1569.0,1113.4 L1574.3,1113.1 L1579.6,1112.8 L1584.9,1112.4 L1590.2,1112.1 L1595.6,1111.8 L1600.9,1111.4 L1606.2,1111.1 L1611.5,1110.8 L1616.8,1110.6 L1622.1,1110.3 L1627.4,1110.1 L1632.7,1109.9 L1638.0,1109.8 L1643.3,1109.6 L1648.6,1109.5 L1653.9,1109.4 L1659.2,1109.3 L1664.5,1109.3 L1669.8,1109.2 L1675.1,1109.2 L1680.4,1109.1 L1685.7,1109.1 L1691.0,1109.0 L1696.2,1108.9 L1701.4,1108.9 L1706.7,1108.9 L1711.9,1108.8 L1717.1,1108.8 L1722.3,1108.8 L1727.5,1108.8 L1732.7,1108.8 L1737.9,1108.8 L1743.1,1108.7 L1748.3,1108.7 L1753.5,1108.7" fill="none" stroke="#FF7F00" stroke-width="9.6" stroke-linecap="round" stroke-linejoin="round"/>
<path d="M465.0,305.0 L468.0,350.9 L471.1,398.8 L474.4,448.2 L477.7,498.2 L481.0,548.3 L484.2,597.6 L487.4,645.6 L490.4,691.5 L493.1,734.5 L495.7,774.1 L497.9,809.5 L499.8,840.0 L500.5,852.3 L501.2,864.1 L501.8,875.3 L502.4,885.9 L502.9,896.0 L503.4,905.4 L503.9,914.3 L504.3,922.6 L504.8,930.3 L505.2,937.5 L505.6,944.0 L506.0,950.0 L506.2,952.5 L506.3,954.7 L506.4,956.9 L506.6,958.9 L506.7,960.8 L506.8,962.6 L506.9,964.3 L507.1,966.0 L507.3,967.5 L507.5,969.0 L507.7,970.5 L508.0,972.0 L508.2,973.0 L508.4,973.9 L508.7,974.8 L508.9,975.7 L509.1,976.5 L509.4,977.4 L509.7,978.1 L510.0,978.9 L510.3,979.7 L510.7,980.5 L511.1,981.2 L511.5,982.0 L512.0,982.8 L512.5,983.6 L513.1,984.3 L513.8,985.1 L514.4,985.8 L515.1,986.5 L515.8,987.2 L516.5,988.0 L517.2,988.7 L517.9,989.5 L518.7,990.3 L519.4,991.2 L520.4,992.4 L521.4,993.6 L522.4,994.9 L523.5,996.3 L524.5,997.7 L525.6,999.1 L526.7,1000.5 L527.9,1001.9 L529.0,1003.3 L530.1,1004.7 L531.2,1006.1 L532.3,1007.4 L533.4,1008.7 L534.5,1010.0 L535.6,1011.3 L536.8,1012.6 L537.9,1014.0 L539.0,1015.3 L540.2,1016.5 L541.3,1017.8 L542.3,1019.0 L543.4,1020.1 L544.4,1021.2 L545.3,1022.2 L545.9,1022.8 L546.4,1023.5 L547.0,1024.1 L547.5,1024.6 L547.9,1025.2 L548.4,1025.7 L548.9,1026.2 L549.4,1026.7 L549.9,1027.2 L550.5,1027.7 L551.1,1028.2 L551.7,1028.7 L552.6,1029.3 L553.5,1029.9 L554.5,1030.4 L555.5,1030.9 L556.5,1031.4 L557.6,1031.9 L558.7,1032.5 L559.9,1033.0 L561.0,1033.5 L562.2,1034.1 L563.5,1034.7 L564.7,1035.4 L566.5,1036.5 L568.5,1037.6 L570.5,1038.9 L572.6,1040.2 L574.7,1041.6 L576.9,1043.0 L579.1,1044.5 L581.4,1045.9 L583.6,1047.3 L585.9,1048.6 L588.2,1049.8 L590.5,1051.0 L592.8,1052.1 L595.2,1053.1 L597.5,1054.1 L599.9,1055.1 L602.3,1056.0 L604.8,1056.9 L607.2,1057.8 L609.7,1058.6 L612.2,1059.5 L614.8,1060.4 L617.4,1061.3 L620.0,1062.3 L623.1,1063.5 L626.2,1064.6 L629.4,1065.8 L632.6,1067.0 L635.8,1068.2 L639.1,1069.5 L642.4,1070.7 L645.8,1071.9 L649.2,1073.1 L652.8,1074.3 L656.3,1075.5 L660.0,1076.7 L664.6,1078.1 L669.3,1079.5 L674.1,1080.9 L679.0,1082.4 L684.1,1083.8 L689.2,1085.1 L694.3,1086.5 L699.5,1087.9 L704.7,1089.2 L709.8,1090.5 L714.9,1091.8 L720.0,1093.0 L725.0,1094.2 L730.0,1095.4 L735.0,1096.5 L740.0,1097.6 L745.0,1098.7 L750.0,1099.8 L755.0,1100.8 L760.0,1101.8 L765.0,1102.9 L770.0,1103.8 L775.0,1104.8 L780.0,1105.8 L785.0,1106.8 L790.0,1107.7 L795.0,1108.6 L800.0,1109.5 L805.0,1110.4 L810.0,1111.2 L815.0,1112.1 L820.0,1112.9 L825.0,1113.7 L830.0,1114.5 L835.0,1115.3 L840.0,1116.1 L845.0,1116.9 L850.0,1117.6 L855.0,1118.3 L860.0,1118.9 L865.0,1119.6 L870.0,1120.2 L875.0,1120.9 L880.0,1121.5 L885.0,1122.2 L890.0,1122.9 L895.0,1123.6 L900.0,1124.3 L905.0,1125.1 L910.0,1125.9 L915.0,1126.8 L920.0,1127.6 L925.0,1128.5 L930.0,1129.4 L935.0,1130.3 L940.0,1131.2 L945.0,1132.0 L950.0,1132.8 L955.0,1133.5 L960.0,1134.2 L965.0,1134.8 L970.0,1135.4 L975.0,1135.9 L980.0,1136.4 L985.0,1136.9 L990.0,1137.3 L995.0,1137.7 L1000.0,1138.1 L1005.0,1138.5 L1010.0,1138.9 L1015.0,1139.2 L1020.0,1139.6 L1025.0,1140.0 L1030.0,1140.3 L1035.0,1140.6 L1040.0,1140.9 L1045.0,1141.1 L1050.0,1141.4 L1055.0,1141.6 L1060.0,1141.9 L1065.0,1142.1 L1070.0,1142.4 L1075.0,1142.7 L1080.0,1143.0 L1085.0,1143.3 L1090.0,1143.6 L1094.9,1144.0 L1099.9,1144.3 L1104.9,1144.7 L1109.8,1145.0 L1114.8,1145.4 L1119.8,1145.7 L1124.8,1146.1 L1129.9,1146.4 L1134.9,1146.8 L1140.0,1147.1 L1145.3,1147.4 L1150.7,1147.8 L1156.2,1148.1 L1161.7,1148.4 L1167.2,1148.7 L1172.7,1149.0 L1178.2,1149.3 L1183.6,1149.6 L1189.1,1149.9 L1194.5,1150.2 L1199.8,1150.5 L1205.0,1150.8 L1209.8,1151.1 L1214.7,1151.4 L1219.6,1151.6 L1224.4,1151.9 L1229.3,1152.2 L1234.1,1152.5 L1238.8,1152.7 L1243.3,1153.0 L1247.8,1153.3 L1252.1,1153.5 L1256.1,1153.8 L1260.0,1154.0 L1262.5,1154.2 L1264.8,1154.3 L1267.0,1154.5 L1269.1,1154.6 L1271.1,1154.8 L1273.0,1154.9 L1275.0,1155.0 L1277.0,1155.2 L1279.1,1155.3 L1281.3,1155.4 L1283.6,1155.5 L1286.0,1155.6 L1289.7,1155.7 L1293.6,1155.8 L1297.7,1155.9 L1302.0,1155.9 L1306.4,1155.9 L1310.9,1156.0 L1315.5,1156.0 L1320.0,1156.0 L1324.5,1156.0 L1329.0,1156.0 L1333.4,1156.0 L1337.6,1156.0 L1341.5,1156.0 L1345.3,1156.0 L1349.1,1156.0 L1352.9,1156.0 L1356.6,1156.1 L1360.4,1156.1 L1364.1,1156.1 L1367.8,1156.1 L1371.6,1156.1 L1375.3,1156.0 L1379.0,1156.0 L1382.8,1156.0 L1386.6,1156.0 L1390.4,1155.9 L1394.2,1155.9 L1398.0,1155.9 L1401.8,1155.8 L1405.6,1155.8 L1409.4,1155.7 L1413.2,1155.7 L1416.9,1155.6 L1420.7,1155.6 L1424.4,1155.5 L1428.0,1155.4 L1431.4,1155.3 L1434.7,1155.2 L1438.0,1155.1 L1441.3,1155.0 L1444.6,1154.9 L1447.9,1154.8 L1451.1,1154.7 L1454.3,1154.6 L1457.5,1154.5 L1460.7,1154.4 L1463.9,1154.2 L1467.0,1154.1 L1469.8,1154.0 L1472.5,1153.9 L1475.2,1153.7 L1477.8,1153.6 L1480.4,1153.5 L1483.0,1153.4 L1485.6,1153.2 L1488.3,1153.1 L1491.1,1153.0 L1493.9,1152.8 L1496.9,1152.7 L1500.0,1152.5 L1504.6,1152.3 L1509.4,1152.0 L1514.5,1151.7 L1519.7,1151.4 L1525.1,1151.1 L1530.6,1150.8 L1536.1,1150.5 L1541.7,1150.2 L1547.3,1149.9 L1552.8,1149.6 L1558.3,1149.3 L1563.7,1149.1 L1569.0,1148.9 L1574.3,1148.7 L1579.6,1148.5 L1584.9,1148.3 L1590.2,1148.2 L1595.6,1148.0 L1600.9,1147.9 L1606.2,1147.7 L1611.5,1147.6 L1616.8,1147.4 L1622.1,1147.3 L1627.4,1147.2 L1632.7,1147.1 L1638.0,1147.0 L1643.3,1146.9 L1648.6,1146.8 L1653.9,1146.7 L1659.2,1146.7 L1664.5,1146.6 L1669.8,1146.5 L1675.1,1146.5 L1680.4,1146.4 L1685.7,1146.3 L1691.0,1146.2 L1696.2,1146.1 L1701.4,1146.0 L1706.7,1145.9 L1711.9,1145.8 L1717.1,1145.6 L1722.3,1145.5 L1727.5,1145.4 L1732.7,1145.3 L1737.9,1145.2 L1743.1,1145.0 L1748.3,1144.9 L1753.5,1144.8" fill="none" stroke="#C8561E" stroke-width="9.6" stroke-linecap="round" stroke-linejoin="round"/>
<path d="M465.0,301.0 L466.1,320.0 L467.3,338.8 L468.4,357.4 L469.5,376.0 L470.7,394.7 L471.8,413.3 L472.9,432.1 L474.1,451.1 L475.2,470.3 L476.4,489.8 L477.5,509.7 L478.7,530.0 L480.1,554.8 L481.6,581.3 L483.1,608.9 L484.7,637.4 L486.3,666.1 L487.8,694.7 L489.3,722.8 L490.8,749.9 L492.2,775.6 L493.4,799.5 L494.6,821.1 L495.6,840.0 L496.0,848.6 L496.5,856.9 L496.8,864.7 L497.2,872.2 L497.5,879.3 L497.8,886.1 L498.1,892.5 L498.4,898.6 L498.7,904.4 L499.0,909.9 L499.4,915.1 L499.7,920.0 L499.9,922.6 L500.1,925.0 L500.3,927.3 L500.5,929.5 L500.7,931.6 L500.9,933.6 L501.1,935.6 L501.3,937.5 L501.5,939.3 L501.7,941.1 L501.9,943.0 L502.1,944.8 L502.3,946.2 L502.5,947.6 L502.6,948.9 L502.8,950.1 L503.0,951.4 L503.2,952.6 L503.4,953.8 L503.6,955.1 L503.8,956.4 L504.0,957.8 L504.1,959.2 L504.3,960.8 L504.5,963.4 L504.7,966.2 L504.8,969.2 L505.0,972.4 L505.1,975.6 L505.2,978.9 L505.3,982.3 L505.4,985.6 L505.6,988.9 L505.8,992.1 L506.0,995.1 L506.3,998.0 L506.6,1000.2 L506.8,1002.4 L507.1,1004.6 L507.5,1006.8 L507.8,1008.9 L508.1,1010.9 L508.5,1012.9 L508.9,1014.9 L509.3,1016.8 L509.7,1018.7 L510.1,1020.5 L510.6,1022.2 L510.9,1023.4 L511.3,1024.6 L511.6,1025.8 L512.0,1026.9 L512.4,1028.0 L512.7,1029.0 L513.1,1030.1 L513.6,1031.1 L514.0,1032.1 L514.5,1033.1 L515.0,1034.2 L515.5,1035.2 L516.1,1036.3 L516.8,1037.4 L517.4,1038.5 L518.1,1039.6 L518.9,1040.7 L519.6,1041.8 L520.4,1042.8 L521.2,1043.9 L522.0,1045.0 L522.9,1046.0 L523.7,1047.1 L524.6,1048.1 L525.6,1049.2 L526.5,1050.3 L527.5,1051.4 L528.6,1052.5 L529.6,1053.6 L530.7,1054.7 L531.8,1055.7 L532.9,1056.8 L534.0,1057.9 L535.2,1058.9 L536.3,1060.0 L537.5,1061.0 L538.8,1062.1 L540.0,1063.2 L541.2,1064.3 L542.5,1065.4 L543.8,1066.5 L545.1,1067.6 L546.4,1068.6 L547.8,1069.7 L549.3,1070.8 L550.9,1071.9 L552.5,1072.9 L554.3,1074.0 L557.2,1075.6 L560.4,1077.3 L563.9,1078.9 L567.5,1080.5 L571.3,1082.1 L575.2,1083.7 L579.3,1085.3 L583.4,1086.9 L587.6,1088.6 L591.7,1090.2 L595.9,1091.9 L600.0,1093.6 L604.7,1095.6 L609.5,1097.7 L614.4,1099.9 L619.3,1102.1 L624.3,1104.4 L629.4,1106.6 L634.5,1108.8 L639.6,1110.9 L644.7,1113.0 L649.8,1115.0 L654.9,1116.8 L660.0,1118.5 L664.9,1120.0 L669.9,1121.4 L674.9,1122.6 L679.9,1123.8 L684.9,1124.9 L689.9,1125.9 L694.9,1126.9 L699.9,1127.9 L705.0,1128.9 L710.0,1129.9 L715.0,1130.9 L720.0,1131.9 L725.0,1133.0 L730.0,1134.0 L735.0,1135.1 L740.0,1136.1 L745.0,1137.1 L750.0,1138.2 L755.0,1139.2 L760.0,1140.2 L765.0,1141.2 L770.0,1142.2 L775.0,1143.1 L780.0,1144.1 L785.0,1145.1 L790.0,1146.1 L795.0,1147.0 L800.0,1148.0 L805.0,1149.0 L810.0,1150.0 L815.0,1150.9 L820.0,1151.8 L825.0,1152.7 L830.0,1153.5 L835.0,1154.3 L840.0,1155.0 L845.0,1155.6 L850.0,1156.2 L855.0,1156.7 L860.0,1157.2 L865.0,1157.6 L870.0,1158.0 L875.0,1158.3 L880.0,1158.7 L885.0,1159.1 L890.0,1159.5 L895.0,1160.0 L900.0,1160.5 L905.0,1161.1 L910.0,1161.6 L915.0,1162.3 L920.0,1162.9 L925.0,1163.5 L930.0,1164.2 L935.0,1164.8 L940.0,1165.5 L945.0,1166.1 L950.0,1166.8 L955.0,1167.5 L960.0,1168.1 L965.0,1168.7 L970.0,1169.4 L975.0,1170.1 L980.0,1170.7 L985.0,1171.4 L990.0,1172.0 L995.0,1172.7 L1000.0,1173.4 L1005.0,1174.0 L1010.0,1174.6 L1015.0,1175.2 L1020.0,1175.8 L1025.0,1176.4 L1030.0,1176.9 L1035.0,1177.4 L1040.0,1177.9 L1045.0,1178.4 L1050.0,1178.9 L1055.0,1179.3 L1060.0,1179.8 L1065.0,1180.3 L1070.0,1180.8 L1075.0,1181.3 L1080.0,1181.8 L1085.0,1182.3 L1090.0,1182.9 L1094.9,1183.5 L1099.9,1184.1 L1104.9,1184.6 L1109.8,1185.2 L1114.8,1185.8 L1119.8,1186.4 L1124.8,1186.9 L1129.9,1187.4 L1134.9,1187.9 L1140.0,1188.4 L1145.3,1188.8 L1150.7,1189.3 L1156.2,1189.6 L1161.7,1190.0 L1167.2,1190.3 L1172.7,1190.7 L1178.2,1191.0 L1183.6,1191.3 L1189.1,1191.6 L1194.4,1191.8 L1199.8,1192.1 L1205.0,1192.4 L1209.8,1192.7 L1214.7,1192.9 L1219.5,1193.1 L1224.4,1193.4 L1229.3,1193.6 L1234.1,1193.8 L1238.8,1194.0 L1243.3,1194.2 L1247.8,1194.4 L1252.1,1194.5 L1256.1,1194.7 L1260.0,1194.9 L1262.5,1195.0 L1264.8,1195.2 L1267.0,1195.3 L1269.1,1195.4 L1271.1,1195.6 L1273.1,1195.7 L1275.0,1195.8 L1277.0,1195.9 L1279.1,1196.0 L1281.3,1196.1 L1283.6,1196.1 L1286.0,1196.1 L1289.7,1196.0 L1293.6,1195.9 L1297.7,1195.7 L1302.0,1195.4 L1306.4,1195.1 L1310.9,1194.8 L1315.5,1194.4 L1320.0,1194.1 L1324.5,1193.8 L1329.0,1193.4 L1333.4,1193.1 L1337.6,1192.9 L1341.5,1192.7 L1345.3,1192.5 L1349.1,1192.3 L1352.9,1192.1 L1356.6,1191.9 L1360.4,1191.7 L1364.1,1191.6 L1367.8,1191.4 L1371.6,1191.3 L1375.3,1191.1 L1379.0,1191.0 L1382.8,1190.9 L1386.6,1190.8 L1390.4,1190.8 L1394.2,1190.7 L1398.0,1190.7 L1401.8,1190.7 L1405.6,1190.7 L1409.4,1190.7 L1413.2,1190.8 L1416.9,1190.8 L1420.7,1190.8 L1424.4,1190.7 L1428.0,1190.7 L1431.4,1190.7 L1434.7,1190.6 L1438.0,1190.5 L1441.3,1190.5 L1444.6,1190.4 L1447.9,1190.3 L1451.1,1190.2 L1454.3,1190.1 L1457.5,1190.1 L1460.7,1190.0 L1463.9,1189.9 L1467.0,1189.9 L1469.8,1189.9 L1472.5,1189.8 L1475.2,1189.8 L1477.8,1189.8 L1480.4,1189.8 L1483.0,1189.8 L1485.6,1189.8 L1488.3,1189.8 L1491.1,1189.8 L1493.9,1189.8 L1496.9,1189.7 L1500.0,1189.7 L1504.6,1189.6 L1509.4,1189.6 L1514.5,1189.5 L1519.7,1189.4 L1525.1,1189.3 L1530.6,1189.2 L1536.1,1189.1 L1541.7,1189.0 L1547.3,1188.8 L1552.8,1188.7 L1558.3,1188.6 L1563.7,1188.5 L1569.0,1188.4 L1574.3,1188.3 L1579.6,1188.2 L1584.9,1188.0 L1590.2,1187.9 L1595.6,1187.8 L1600.9,1187.7 L1606.2,1187.5 L1611.5,1187.4 L1616.8,1187.3 L1622.1,1187.2 L1627.4,1187.1 L1632.7,1187.0 L1638.0,1186.9 L1643.3,1186.8 L1648.6,1186.7 L1653.9,1186.7 L1659.2,1186.6 L1664.5,1186.5 L1669.8,1186.4 L1675.1,1186.3 L1680.4,1186.3 L1685.7,1186.2 L1691.0,1186.1 L1696.2,1186.0 L1701.4,1185.9 L1706.7,1185.8 L1711.9,1185.7 L1717.1,1185.6 L1722.3,1185.6 L1727.5,1185.5 L1732.7,1185.4 L1737.9,1185.3 L1743.1,1185.2 L1748.3,1185.1 L1753.5,1185.0" fill="none" stroke="#FF1418" stroke-width="9.6" stroke-linecap="round" stroke-linejoin="round"/>
<path d="M465.0,28.5 v20.5 M465.0,1264.2 v-20.5 M593.9,28.5 v8.5 M593.9,1264.2 v-8.5 M722.8,28.5 v20.5 M722.8,1264.2 v-20.5 M851.7,28.5 v8.5 M851.7,1264.2 v-8.5 M980.6,28.5 v20.5 M980.6,1264.2 v-20.5 M1109.5,28.5 v8.5 M1109.5,1264.2 v-8.5 M1238.4,28.5 v20.5 M1238.4,1264.2 v-20.5 M1367.3,28.5 v8.5 M1367.3,1264.2 v-8.5 M1496.2,28.5 v20.5 M1496.2,1264.2 v-20.5 M1625.1,28.5 v8.5 M1625.1,1264.2 v-8.5 M1754.0,28.5 v20.5 M1754.0,1264.2 v-20.5 M339.8,1248.6 h9.0 M1879.4,1248.6 h-9.0 M339.8,1229.4 h9.0 M1879.4,1229.4 h-9.0 M339.8,1212.4 h9.0 M1879.4,1212.4 h-9.0 M339.8,1197.3 h21.0 M1879.4,1197.3 h-21.0 M339.8,1097.7 h9.0 M1879.4,1097.7 h-9.0 M339.8,1039.4 h9.0 M1879.4,1039.4 h-9.0 M339.8,998.0 h9.0 M1879.4,998.0 h-9.0 M339.8,965.9 h9.0 M1879.4,965.9 h-9.0 M339.8,939.7 h9.0 M1879.4,939.7 h-9.0 M339.8,917.6 h9.0 M1879.4,917.6 h-9.0 M339.8,898.4 h9.0 M1879.4,898.4 h-9.0 M339.8,881.4 h9.0 M1879.4,881.4 h-9.0 M339.8,866.3 h21.0 M1879.4,866.3 h-21.0 M339.8,766.7 h9.0 M1879.4,766.7 h-9.0 M339.8,708.4 h9.0 M1879.4,708.4 h-9.0 M339.8,667.0 h9.0 M1879.4,667.0 h-9.0 M339.8,634.9 h9.0 M1879.4,634.9 h-9.0 M339.8,608.7 h9.0 M1879.4,608.7 h-9.0 M339.8,586.6 h9.0 M1879.4,586.6 h-9.0 M339.8,567.4 h9.0 M1879.4,567.4 h-9.0 M339.8,550.4 h9.0 M1879.4,550.4 h-9.0 M339.8,535.3 h21.0 M1879.4,535.3 h-21.0 M339.8,435.7 h9.0 M1879.4,435.7 h-9.0 M339.8,377.4 h9.0 M1879.4,377.4 h-9.0 M339.8,336.0 h9.0 M1879.4,336.0 h-9.0 M339.8,303.9 h9.0 M1879.4,303.9 h-9.0 M339.8,277.7 h9.0 M1879.4,277.7 h-9.0 M339.8,255.6 h9.0 M1879.4,255.6 h-9.0 M339.8,236.4 h9.0 M1879.4,236.4 h-9.0 M339.8,219.4 h9.0 M1879.4,219.4 h-9.0 M339.8,204.3 h21.0 M1879.4,204.3 h-21.0 M339.8,104.7 h9.0 M1879.4,104.7 h-9.0 M339.8,46.4 h9.0 M1879.4,46.4 h-9.0" stroke="#000" stroke-width="9.6" fill="none"/>
<rect x="336.0" y="24.7" width="1547.2" height="1243.3" fill="none" stroke="#000" stroke-width="9.6"/>
<text transform="translate(444.07,1360.00) scale(0.9391,1)" font-size="85.32" fill="#000">0</text>
<text transform="translate(652.69,1360.00) scale(0.9805,1)" font-size="85.32" fill="#000">200</text>
<text transform="translate(910.26,1360.00) scale(0.9886,1)" font-size="85.32" fill="#000">400</text>
<text transform="translate(1167.25,1360.00) scale(0.9800,1)" font-size="85.32" fill="#000">600</text>
<text transform="translate(1427.93,1360.00) scale(0.9629,1)" font-size="85.32" fill="#000">800</text>
<text transform="translate(1661.00,1360.00) scale(0.9707,1)" font-size="85.32" fill="#000">1000</text>
<text transform="translate(222.26,229.80) scale(0.9123,1)" font-size="85.32" fill="#000">10</text>
<text transform="translate(266.62,560.80) scale(0.9989,1)" font-size="85.32" fill="#000">1</text>
<text transform="translate(195.78,892.00) scale(0.9965,1)" font-size="85.32" fill="#000">0.1</text>
<text transform="translate(150.42,1222.70) scale(0.9834,1)" font-size="85.32" fill="#000">0.01</text>
<text transform="translate(942.52,1509.00) scale(1.0071,1)" font-size="107.56" fill="#000">V</text>
<text transform="translate(1012.24,1536.30) scale(0.9995,1)" font-size="70.20" fill="#000">DS</text>
<text transform="translate(1139.26,1507.57) scale(0.9076,1)" font-size="100.15">(</text>
<text transform="translate(1171.62,1509.00) scale(1.0128,1)" font-size="107.56" fill="#000">V</text>
<text transform="translate(1246.47,1507.57) scale(0.9039,1)" font-size="100.15">)</text>
<text transform="translate(108.60,988.68) rotate(-90) scale(0.9345,1)" font-size="107.12" fill="#000">C</text>
<text transform="translate(137.10,913.26) rotate(-90) scale(1.0173,1)" font-size="69.04" fill="#000">rss,sp</text>
<text transform="translate(107.93,697.36) rotate(-90) scale(0.9692,1)" font-size="100.79">(</text>
<text transform="translate(108.60,664.98) rotate(-90) scale(0.9538,1)" font-size="107.12" fill="#000">nF/cm</text>
<text transform="translate(64.60,380.01) rotate(-90) scale(1.0441,1)" font-size="70.64" fill="#000">2</text>
<text transform="translate(107.93,334.17) rotate(-90) scale(0.9655,1)" font-size="100.79">)</text>
<path d="M1445,123.1 H1529.1" stroke="#000" stroke-width="14.4" stroke-linecap="round"/>
<text transform="translate(1550.60,140.00) scale(0.9559,1)" font-size="49.42" fill="#000">C-MOSFET</text>
<path d="M1445,180.3 H1467.9 M1508.4,180.3 H1529.1" stroke="#000" stroke-width="14.4" stroke-linecap="round"/>
<text transform="translate(1551.78,197.00) scale(0.9460,1)" font-size="49.42" fill="#000">SG-MOSFET</text>
<path d="M1445,238.4 H1529.1" stroke="#009E0F" stroke-width="14.4" stroke-linecap="round"/>
<text transform="translate(1551.33,255.00) scale(0.9539,1)" font-size="49.42" fill="#000">Device #A</text>
<path d="M1445,295.9 H1529.1" stroke="#0072B5" stroke-width="14.4" stroke-linecap="round"/>
<text transform="translate(1551.32,312.40) scale(0.9576,1)" font-size="49.42" fill="#000">Device #B</text>
<path d="M1445,353.9 H1529.1" stroke="#7B3A9E" stroke-width="14.4" stroke-linecap="round"/>
<text transform="translate(1551.33,370.00) scale(0.9557,1)" font-size="49.42" fill="#000">Device #C</text>
<path d="M1445,411.4 H1529.1" stroke="#FF7F00" stroke-width="14.4" stroke-linecap="round"/>
<text transform="translate(1551.32,428.00) scale(0.9578,1)" font-size="49.42" fill="#000">Device #D</text>
<path d="M1445,469.2 H1529.1" stroke="#C8561E" stroke-width="14.4" stroke-linecap="round"/>
<text transform="translate(1551.36,485.70) scale(0.9468,1)" font-size="49.42" fill="#000">Device #E</text>
<path d="M1445,527.0 H1529.1" stroke="#FF1418" stroke-width="14.4" stroke-linecap="round"/>
<text transform="translate(1551.35,543.20) scale(0.9500,1)" font-size="49.42" fill="#000">Device #F</text>
<text transform="translate(1416.89,750.00) scale(0.9803,1)" font-size="62.50" fill="#000">C-MOSFET</text>
<text transform="translate(1396.12,901.80) scale(0.9643,1)" font-size="63.37" fill="#000">SG-MOSFET</text>
<text transform="translate(1339.07,1018.80) scale(0.9849,1)" font-size="62.21" fill="#000">PSG-MOSFETs</text>
<text transform="translate(748.85,1234.50) scale(0.9982,1)" font-size="56.83" fill="#000">W</text>
<text transform="translate(802.32,1246.80) scale(1.0099,1)" font-size="37.21" fill="#000">P</text>
<text transform="translate(838.17,1234.50) scale(0.9803,1)" font-size="56.83" fill="#000">increases</text>
<ellipse cx="1208.9" cy="1114.6" rx="29.6" ry="116" fill="none" stroke="#000" stroke-width="10"/>
<path d="M1207,998.9 H1293" stroke="#000" stroke-width="10.4" fill="none"/>
<path d="M1291.1,984.5 L1320,998.9 L1291.1,1013.3 Z" fill="#000"/>
<path d="M583.8,907.7 L719.3,1170" stroke="#000" stroke-width="10" stroke-dasharray="9.7 8.8" fill="none"/>
<path d="M731.7,1194.8 L707,1176.4 L731.7,1163.8 Z" fill="#000"/>
<rect x="720.3" y="72.7" width="242.4" height="289.1" rx="38" fill="#D9EBF7"/>
<rect x="674.1" y="370.9" width="320.8" height="76.2" rx="11" fill="#D9EBF7"/>
<path d="M774.6,82 V142 M774.6,174 V244 M774.6,275 V349.8" stroke="#000" stroke-width="6.5" fill="none"/>
<path d="M732,143.9 H817 M732,172.7 H817 M732,245.3 H817 M732,273.3 H817" stroke="#f00" stroke-width="6.5" fill="none"/>
<path d="M740.9,309.5 L805.1,212.3" stroke="#f00" stroke-width="6.3" stroke-linecap="round" fill="none"/>
<path d="M817.6,193.3 L795.1,205.9 L815,218.7 Z" fill="#f00"/>
<path d="M949.1,104.0 V155.4" stroke="#f00" stroke-width="6.3" fill="none"/>
<path d="M937.1,154.4 L961.1,154.4 L949.1,177.7 Z" fill="#f00"/>
<path d="M949.1,220.2 V271.2" stroke="#f00" stroke-width="6.3" fill="none"/>
<path d="M937.1,270.2 L961.1,270.2 L949.1,293.1 Z" fill="#f00"/>
<path d="M774.6,374.0 V424.2" stroke="#f00" stroke-width="6.3" fill="none"/>
<path d="M762.6,423.2 L786.6,423.2 L774.6,447.1 Z" fill="#f00"/>
<path d="M948.5,399.9 V347.5 H1258.7 V488.5 M948.5,593.5 V661.4 H1258.7 V511 M948.5,423 V570.4 M915.9,399.9 H979.3 M915.9,423 H979.3 M915.9,570.4 H979.3 M915.9,593.5 H979.3 M1226.9,488.5 H1290.1 M1226.9,511 H1290.1 M890,492.1 H1025.3 M1025.3,429.1 V561.7 M1048.5,429.1 V469.4 M1048.5,474.2 V515.1 M1048.5,519.8 V561.7 M1048.5,451.5 H1156.7 V540.6 H1048.5 M1137,477 H1173.1 M1102.4,310 V451.5 M1068,494.4 H1102.2 V701" stroke="#000" stroke-width="6.5" fill="none" stroke-linejoin="miter"/>
<path d="M1156.5,478 L1134,509 L1178.2,509 Z" fill="#000"/>
<path d="M1051.5,494.4 L1071,483.2 L1071,505.9 Z" fill="#000"/>
<circle cx="882.4" cy="492.5" r="8.1" fill="#fff" stroke="#000" stroke-width="6.3"/>
<circle cx="1102.4" cy="302.4" r="8.1" fill="#fff" stroke="#000" stroke-width="6.3"/>
<circle cx="1101.6" cy="708.3" r="8.1" fill="#fff" stroke="#000" stroke-width="6.3"/>
<text transform="translate(762.31,506.40) scale(1.0225,1)" font-size="44.62" fill="#000">Gate</text>
<text transform="translate(1122.98,318.70) scale(0.9968,1)" font-size="45.49" fill="#000">Drain</text>
<text transform="translate(1119.33,722.70) scale(1.0206,1)" font-size="44.62" fill="#000">Source</text>
<text transform="translate(839.39,151.40) scale(0.8901,1)" font-size="55.52" fill="#000">C</text>
<text transform="translate(875.41,162.10) scale(0.9253,1)" font-size="35.76" fill="#000">ox</text>
<text transform="translate(839.39,271.00) scale(0.8901,1)" font-size="55.52" fill="#f00">C</text>
<text transform="translate(875.39,281.00) scale(0.9390,1)" font-size="35.76" fill="#f00">dep</text>
<text transform="translate(682.27,423.40) scale(0.8958,1)" font-size="55.52" fill="#000">C</text>
<text transform="translate(718.57,433.10) scale(0.9796,1)" font-size="35.76" fill="#000">rss</text>
<text transform="translate(783.5,420.1) scale(1.09,1)" font-size="46" stroke="#000" stroke-width="1.3">=</text>
<text transform="translate(826.65,423.40) scale(0.8674,1)" font-size="55.52" fill="#000">C</text>
<text transform="translate(863.05,433.50) scale(0.9736,1)" font-size="35.76" fill="#000">GD</text>
<text transform="translate(840.79,613.50) scale(0.8532,1)" font-size="55.52" fill="#000">C</text>
<text transform="translate(876.80,624.00) scale(0.9435,1)" font-size="35.76" fill="#000">GS</text>
<text transform="translate(1307.46,539.50) scale(0.8645,1)" font-size="55.52" fill="#000">C</text>
<text transform="translate(1344.39,549.80) scale(0.9225,1)" font-size="35.76" fill="#000">DS</text>
</svg>
</body></html>
